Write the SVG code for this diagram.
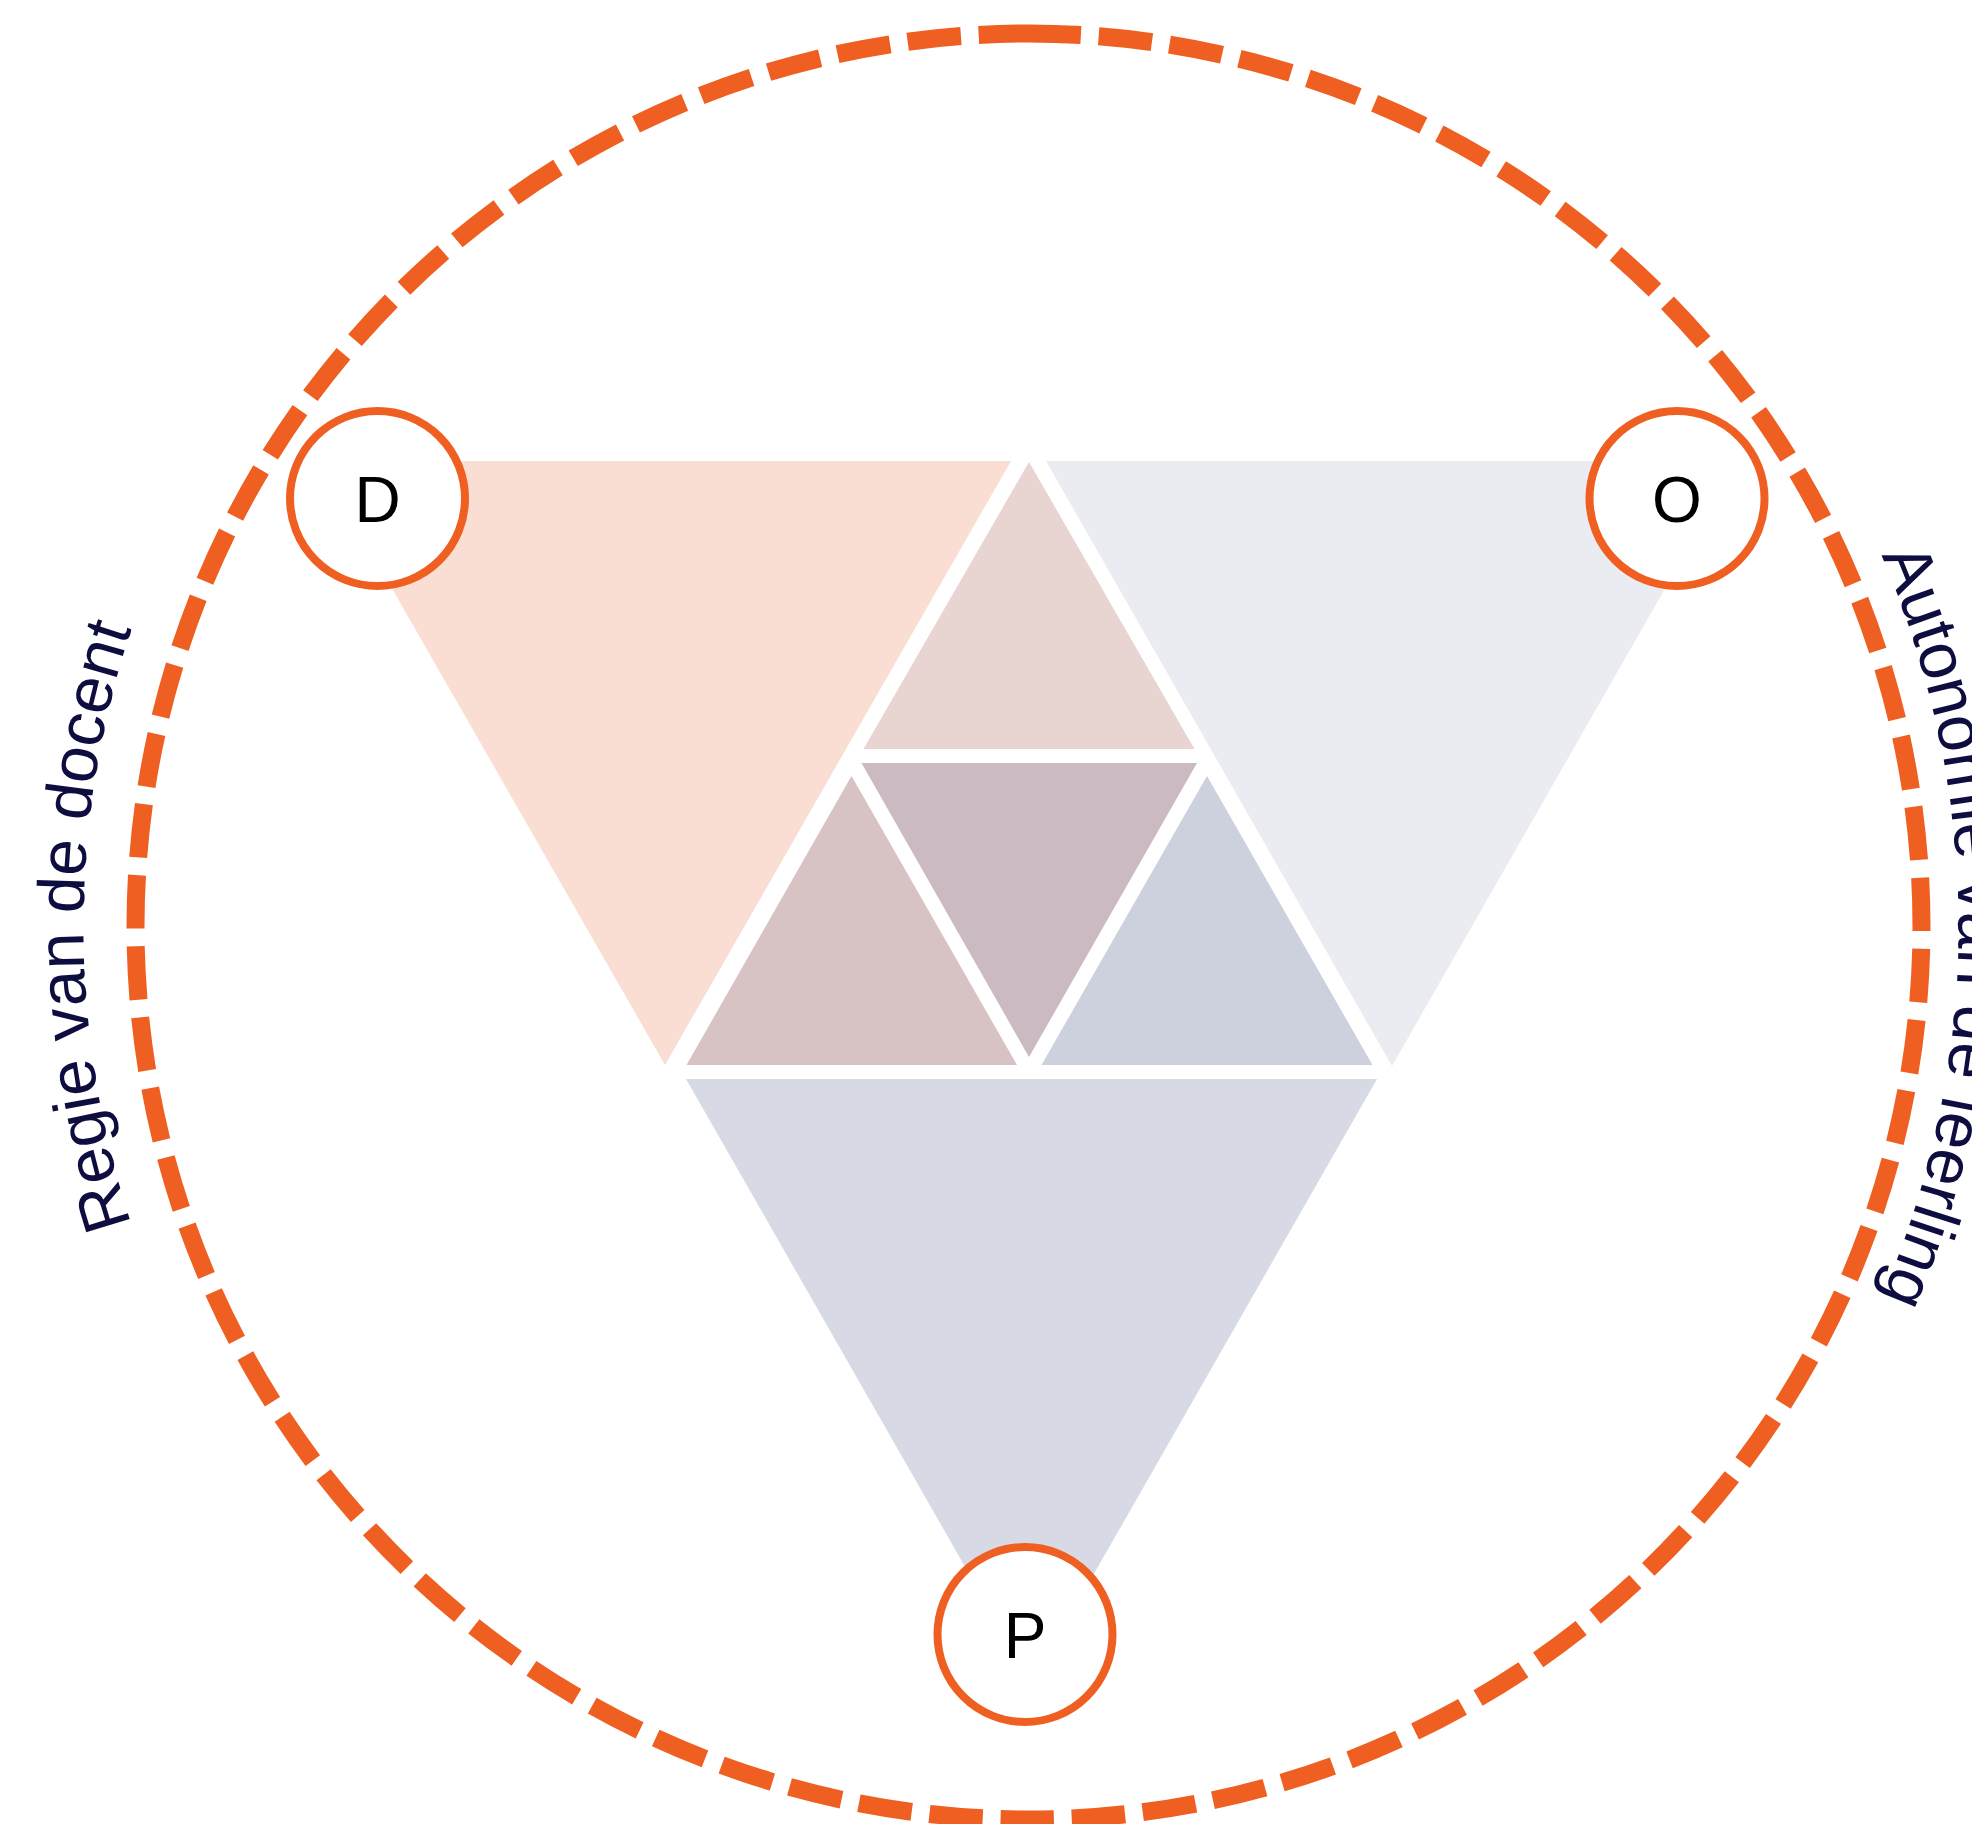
<svg xmlns="http://www.w3.org/2000/svg" width="1972" height="1824" viewBox="0 0 1972 1824">
  <style>
    .node-ring { fill: #ffffff; stroke: #EE5F21; stroke-width: 8; }
    .node-label { font-family: "Liberation Sans", Arial, sans-serif; font-size: 64px; fill: #000000; text-anchor: middle; }
    .arc-label { font-family: "Liberation Sans", Arial, sans-serif; font-size: 66px; fill: #0D0D40; }
    .dashed { fill: none; stroke: #EE5F21; stroke-width: 18; stroke-dasharray: 53.5 17.8; stroke-dashoffset: 1; }
  </style>
  <defs>
    <path id="leftArc" d="M 556 1744.9 A 945 945 0 0 1 556 108.1"/>
    <path id="rightArc" d="M 1493.5 121.1 A 930 930 0 0 1 1493.5 1731.9"/>
  </defs>
  <rect width="1972" height="1824" fill="#ffffff"/>

  <g id="triangles">
    <polygon id="tri-d" points="319,461 1011,461 665,1065" fill="#FADDD3"/>
    <polygon id="tri-o" points="1046,461 1738,461 1392,1066" fill="#EBECF1"/>
    <polygon id="tri-p" points="686,1079 1377,1079 1031.5,1683" fill="#D7DAE5"/>
    <polygon id="tri-top" points="1029,462 1194.5,749 863.5,749" fill="#E8D4D0"/>
    <polygon id="tri-center" points="861.5,763 1197,763 1029,1057" fill="#CBBAC1"/>
    <polygon id="tri-bl" points="851.5,776 1017,1065 686.5,1065" fill="#D7C2C4"/>
    <polygon id="tri-br" points="1207,776 1372.5,1065 1041.5,1065" fill="#CDD0DD"/>
  </g>

  <g id="connectors">
    <path id="outer-ring" class="dashed" d="M 1028.5 33.5 A 893 893 0 0 1 1028.5 1819.5 A 893 893 0 0 1 1028.5 33.5"/>
  </g>

  <g id="node-d">
    <circle class="node-ring" cx="377.5" cy="498.5" r="87.5"/>
    <text class="node-label" x="377.5" y="521.5">D</text>
  </g>
  <g id="node-o">
    <circle class="node-ring" cx="1677" cy="498.5" r="87.5"/>
    <text class="node-label" x="1677" y="521.5">O</text>
  </g>
  <g id="node-p">
    <circle class="node-ring" cx="1025" cy="1634.5" r="87.5"/>
    <text class="node-label" x="1025" y="1657.5">P</text>
  </g>

  <g id="label-left">
    <text class="arc-label"><textPath href="#leftArc" startOffset="50%" text-anchor="middle">Regie van de docent</textPath></text>
  </g>
  <g id="label-right">
    <text class="arc-label"><textPath href="#rightArc" startOffset="50%" text-anchor="middle">Autonomie van de leerling</textPath></text>
  </g>
</svg>
